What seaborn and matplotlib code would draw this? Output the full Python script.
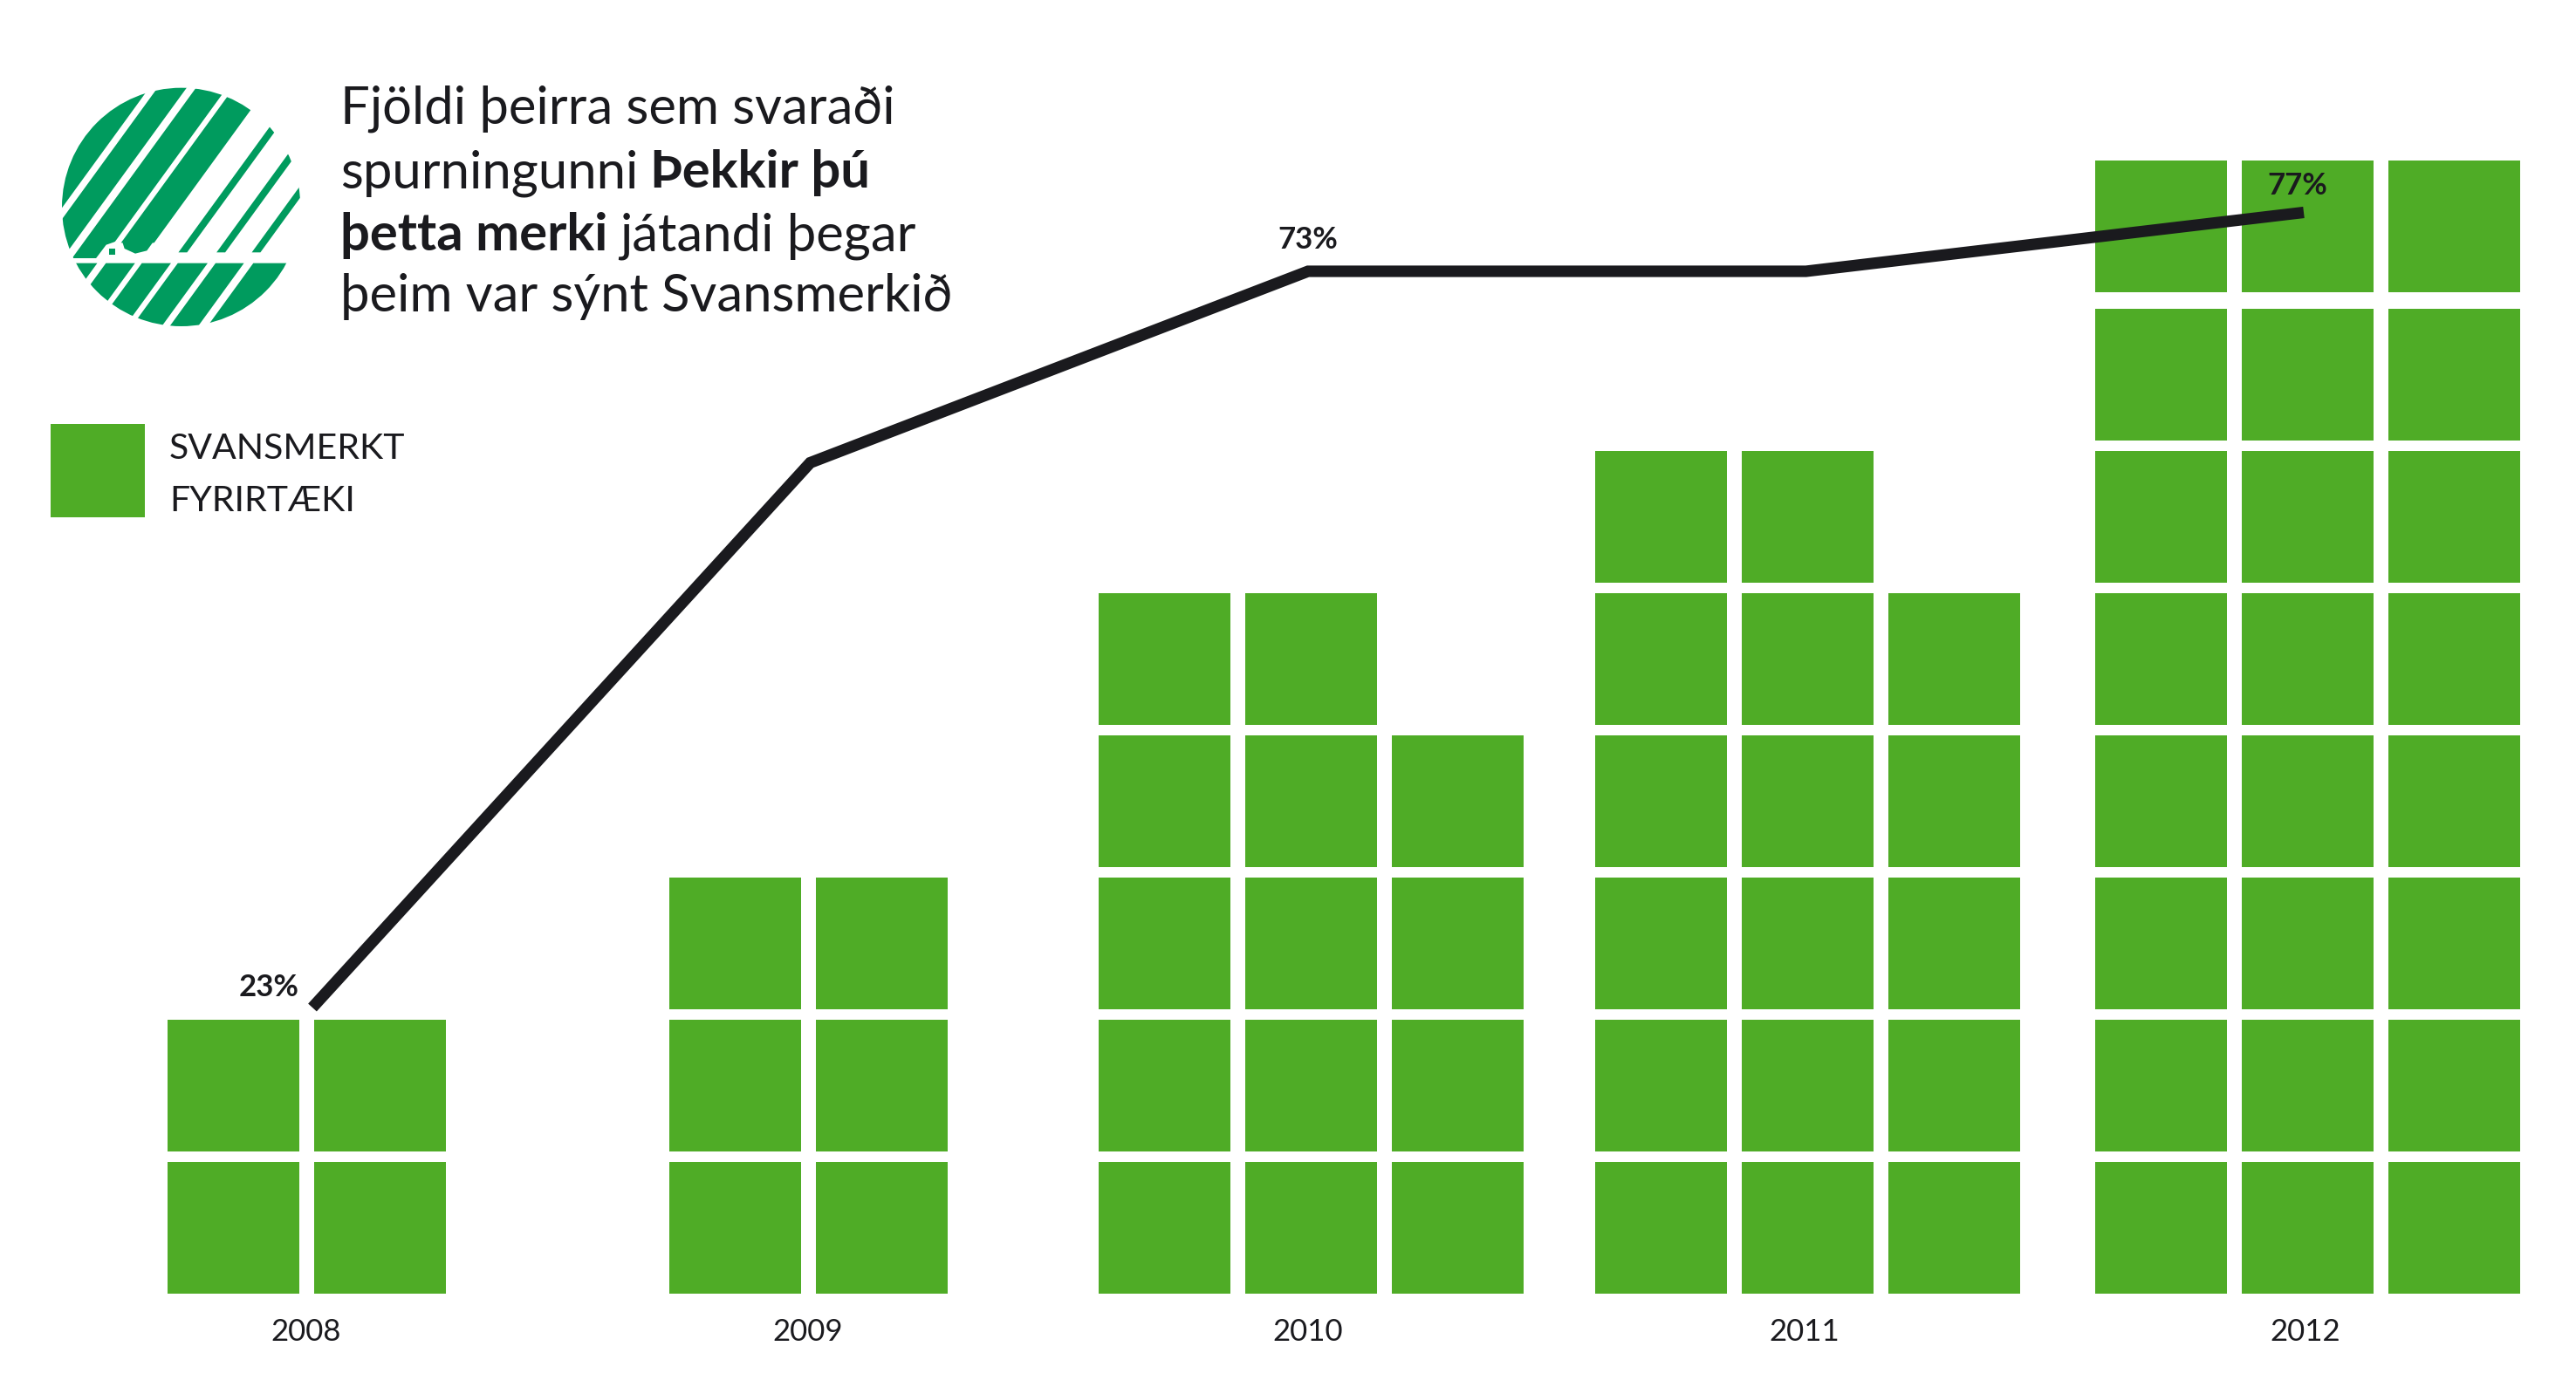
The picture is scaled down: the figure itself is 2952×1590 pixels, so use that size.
import matplotlib
matplotlib.use("Agg")
import matplotlib.pyplot as plt
from matplotlib.patches import Circle, Polygon, Rectangle
import pandas as pd
import seaborn as sns

years = [2008, 2009, 2010, 2011, 2012]
# number of green squares in each column, per year
column_counts = [[2, 2], [3, 3], [5, 5, 4], [6, 6, 5], [8, 8, 8]]
recognition = [23, 60, 73, 73, 77]
shown_labels = {2008: "23%", 2010: "73%", 2012: "77%"}

title_lines = [
    [("Fjöldi þeirra sem svaraði", "normal")],
    [("spurningunni", "normal"), ("Þekkir þú", "bold")],
    [("þetta merki", "bold"), ("játandi þegar", "normal")],
    [("þeim var sýnt Svansmerkið", "normal")],
]
legend_lines = ["SVANSMERKT", "FYRIRTÆKI"]

GREEN = "#4fac26"
LOGO_GREEN = "#009b5e"
DARK = "#1a1a1e"
FONTS = ["Lato", "Open Sans", "DejaVu Sans"]

W, H = 2952, 1590
DPI = 100

# pixel layout of the scales
YEAR_PX = 570.5
X0_PX = 358
ROW_PX = 163
ROW0_PX = 1407
AXES_BOTTOM_PX = 1492
PCT_PX = 16.88
PCT23_PX = 1155
GROUP_NUDGE = {2008: -7, 2009: -3, 2010: 3, 2011: 1, 2012: 3.5}
LABEL_NUDGE = {2008: -7, 2009: -3, 2010: 0, 2011: -2, 2012: 2}
TOP_ROW_NUDGE = 7
CELL_PITCH_PX = 168
CELL_PX = 151

sns.set_theme(style="white")
plt.rcParams["font.family"] = FONTS

fig = plt.figure(figsize=(W / DPI, H / DPI), dpi=DPI, facecolor="white")
ax = fig.add_axes([0, 1 - AXES_BOTTOM_PX / H, 1, AXES_BOTTOM_PX / H])

# one row per square
rows = []
for year, counts in zip(years, column_counts):
    for col, count in enumerate(counts):
        offset = (col - (len(counts) - 1) / 2) * CELL_PITCH_PX + GROUP_NUDGE[year]
        for row in range(count):
            rows.append({"x": year + offset / YEAR_PX,
                         "row": row + (TOP_ROW_NUDGE / ROW_PX if row == 7 else 0)})
cells = pd.DataFrame(rows)

sns.scatterplot(data=cells, x="x", y="row", marker="s", s=(CELL_PX * 72 / DPI) ** 2,
                color=GREEN, linewidth=0, legend=False, ax=ax)

x_left = 2008 - X0_PX / YEAR_PX
ax.set_xlim(x_left, x_left + W / YEAR_PX)
ax.set_ylim((ROW0_PX - AXES_BOTTOM_PX) / ROW_PX, ROW0_PX / ROW_PX)
ax.set_xticks([y + LABEL_NUDGE[y] / YEAR_PX for y in years])
ax.set_xticklabels(years, fontsize=25, color=DARK)
ax.set_yticks([])
ax.set_xlabel("")
ax.set_ylabel("")
ax.tick_params(axis="x", length=0, pad=13.5)

# recognition line on its own scale
ax2 = ax.twinx()
line = pd.DataFrame({"year": years, "pct": recognition})
sns.lineplot(data=line, x="year", y="pct", color=DARK, linewidth=9.5, ax=ax2,
             solid_capstyle="butt", solid_joinstyle="miter")
ax2.set_ylim(23 + (PCT23_PX - AXES_BOTTOM_PX) / PCT_PX, 23 + PCT23_PX / PCT_PX)
ax2.set_yticks([])
ax2.set_xlabel("")
ax2.set_ylabel("")

label_offsets = {2008: (-11, 9), 2010: (0, 19), 2012: (-5.5, 15)}
for year, pct in zip(years, recognition):
    if year in shown_labels:
        ha = "right" if year == 2008 else "center"
        ax2.annotate(shown_labels[year], (year, pct), xytext=label_offsets[year],
                     textcoords="offset points", ha=ha, va="baseline",
                     fontsize=25, fontweight="bold", color=DARK)

for a in (ax, ax2):
    for spine in a.spines.values():
        spine.set_visible(False)

# overlay in pixel coordinates for logo, title and legend
over = fig.add_axes([0, 0, 1, 1], facecolor="none")
over.set_xlim(0, W)
over.set_ylim(H, 0)
over.axis("off")


def logo_xy(x, y):
    # logo shapes were measured in a 3x crop starting at (40, 80)
    return (x / 3 + 40, y / 3 + 80)


CX, CY, R = 503, 472, 410
NX, NY = 0.809, 0.588
clip = Circle(logo_xy(CX, CY), R / 3, transform=over.transData)


def stripe(u0, u1, y0, y1):
    corners = []
    for u, y in [(u0, y0), (u1, y0), (u1, y1), (u0, y1)]:
        corners.append(logo_xy(CX + (u - (y - CY) * NY) / NX, y))
    p = Polygon(corners, closed=True, facecolor=LOGO_GREEN, edgecolor="none")
    over.add_patch(p)
    p.set_clip_path(clip)


# upper part, above the white band
stripe(-900, -330, 0, 648)
stripe(-307, -226, 0, 648)
stripe(-200, -114, 0, 648)
stripe(-95, -3, 0, 595)
stripe(84, 108, 0, 628)
stripe(190, 214, 0, 628)
stripe(288, 312, 0, 628)
# lower part
for u0, u1 in [(-900, -120), (-96, -15), (4, 85), (104, 187), (209, 288), (314, 900)]:
    stripe(u0, u1, 665, 960)

# rounded foot of the wide stripe, the notch and the dot of the swan
foot = [(300, 590), (308, 615), (345, 632), (385, 622), (408, 590)]
over.add_patch(Polygon([logo_xy(*p) for p in foot], facecolor=LOGO_GREEN, edgecolor="none"))
notch = [(205, 655), (245, 602), (285, 588), (300, 655)]
over.add_patch(Polygon([logo_xy(*p) for p in notch], facecolor="white", edgecolor="none"))
over.add_patch(Rectangle(logo_xy(255, 614), 7, 7, facecolor=LOGO_GREEN, edgecolor="none"))

# title with bold runs
renderer = fig.canvas.get_renderer()
TITLE_X = 390
baselines = [142, 215, 287, 357]
for runs, base in zip(title_lines, baselines):
    x = TITLE_X
    for txt, weight in runs:
        t = over.text(x, base, txt, fontsize=43, fontweight=weight, color=DARK,
                      ha="left", va="baseline")
        x += t.get_window_extent(renderer).width + 14

# legend
over.add_patch(Rectangle((58, 486), 108, 107, facecolor=GREEN, edgecolor="none"))
for txt, base in zip(legend_lines, [526, 586]):
    over.text(194, base, txt, fontsize=29.5, color=DARK, ha="left", va="baseline")

fig.savefig("out.png", dpi=DPI, facecolor="white")
